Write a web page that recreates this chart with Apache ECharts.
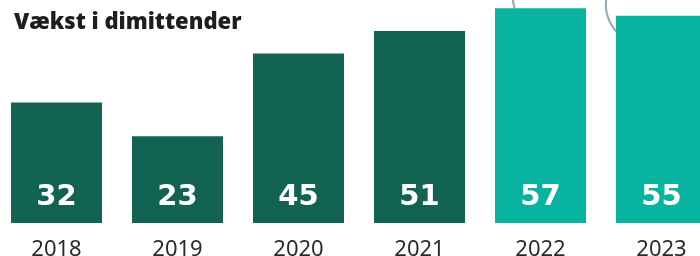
<!DOCTYPE html>
<html>
<head>
<meta charset="utf-8">
<script src="https://cdn.jsdelivr.net/npm/echarts@6/dist/echarts.min.js"></script>
<style>
  html, body { margin: 0; padding: 0; background: #fff; }
  #chart { width: 700px; height: 256px; }
</style>
</head>
<body>
<div id="chart"></div>
<script>
"use strict";

// growth in graduates per year
const years = ['2018', '2019', '2020', '2021', '2022', '2023'];
const graduates = [32, 23, 45, 51, 57, 55];
const recentYears = ['2022', '2023'];

const DARK = '#136352';
const TEAL = '#08b3a0';
const RING = '#8ea9b9';

const chart = echarts.init(document.getElementById('chart'));

const option = {
  animation: false,
  title: {
    text: 'Vækst i dimittender',
    left: 9,
    top: 7,
    textStyle: {
      fontFamily: 'Open Sans',
      fontWeight: 800,
      fontSize: 22,
      color: '#1e1e1e'
    }
  },
  // decorative ring fragments peeking out behind the last two bars
  graphic: [
    {
      type: 'arc',
      z: 0,
      shape: { cx: 548, cy: -2, r: 35, startAngle: Math.PI * 0.7, endAngle: Math.PI * 1.2, clockwise: true },
      style: { fill: 'none', stroke: RING, lineWidth: 2 }
    },
    {
      type: 'arc',
      z: 0,
      shape: { cx: 645, cy: 5, r: 39, startAngle: Math.PI * 0.6, endAngle: Math.PI * 1.2, clockwise: true },
      style: { fill: 'none', stroke: RING, lineWidth: 2 }
    }
  ],
  grid: {
    left: -4,
    right: -22,
    top: -3,
    bottom: 33,
    containLabel: false,
    outerBoundsMode: 'none'
  },
  xAxis: {
    type: 'category',
    data: years,
    axisLine: { show: false },
    axisTick: { show: false },
    axisLabel: {
      margin: 16,
      fontFamily: 'Noto Sans',
      fontSize: 22,
      color: '#2a2a2a'
    }
  },
  yAxis: {
    type: 'value',
    min: 0,
    max: 60,
    show: false,
    splitLine: { show: false }
  },
  series: [
    {
      type: 'bar',
      z: 2,
      barWidth: 91,
      data: graduates.map((v, i) => ({
        value: v,
        itemStyle: { color: recentYears.includes(years[i]) ? TEAL : DARK }
      })),
      label: {
        show: true,
        position: 'insideBottom',
        distance: 11,
        fontFamily: 'DejaVu Sans',
        fontWeight: 'bold',
        fontSize: 29,
        color: '#fff'
      }
    }
  ]
};

chart.setOption(option);
</script>
</body>
</html>
